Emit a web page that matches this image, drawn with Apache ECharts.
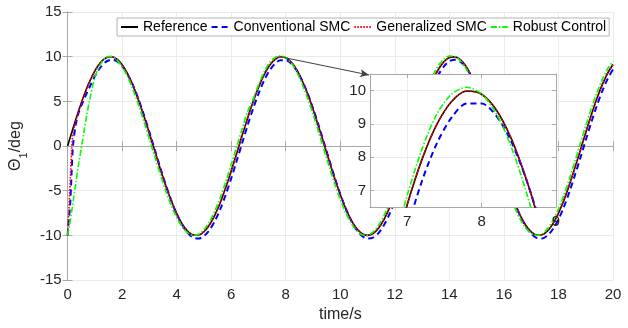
<!DOCTYPE html>
<html><head><meta charset="utf-8">
<script src="https://cdn.jsdelivr.net/npm/echarts@6/dist/echarts.min.js"></script>
<style>html,body{margin:0;padding:0;background:#fff}#c{width:628px;height:328px}</style>
</head><body><div id="c"></div>
<script>
// ---- data ----
const seriesNames = ['Reference', 'Conventional SMC', 'Generalized SMC', 'Robust Control'];
const time = [0,0.05,0.1,0.15,0.2,0.3,0.4,0.5,0.6,0.7,0.8,1.0,
1.2,1.4,1.6,1.8,2,2.2,2.4,2.6,2.8,3,
3.2,3.4,3.6,3.8,4,4.2,4.4,4.6,4.8,5,
5.2,5.4,5.6,5.8,6,6.2,6.4,6.6,6.8,7,
7.2,7.4,7.6,7.8,8,8.2,8.4,8.6,8.8,9,
9.2,9.4,9.6,9.8,10,10.2,10.4,10.6,10.8,11,
11.2,11.4,11.6,11.8,12,12.2,12.4,12.6,12.8,13,
13.2,13.4,13.6,13.8,14,14.2,14.4,14.6,14.8,15,
15.2,15.4,15.6,15.8,16,16.2,16.4,16.6,16.8,17,
17.2,17.4,17.6,17.8,18,18.2,18.4,18.6,18.8,19,
19.2,19.4,19.6,19.8,20];
const reference = [0,0.50,1.00,1.49,1.99,2.96,3.89,4.79,5.65,6.44,7.17,8.41,
9.32,9.85,10.00,9.74,9.09,8.08,6.76,5.16,3.35,1.41,
-0.58,-2.56,-4.43,-6.12,-7.57,-8.72,-9.52,-9.94,-9.96,-9.59,
-8.83,-7.73,-6.31,-4.65,-2.79,-0.83,1.17,3.12,4.94,6.57,
7.94,8.99,9.68,9.99,9.89,9.41,8.55,7.34,5.85,4.12,
2.23,0.25,-1.74,-3.67,-5.44,-7.00,-8.28,-9.23,-9.81,-10.00,
-9.79,-9.19,-8.23,-6.94,-5.37,-3.58,-1.66,0.34,2.32,4.20,
5.92,7.40,8.59,9.44,9.91,9.98,9.66,8.95,7.88,6.50,
4.87,3.04,1.08,-0.92,-2.88,-4.72,-6.39,-7.79,-8.87,-9.61,
-9.97,-9.93,-9.49,-8.68,-7.51,-6.06,-4.34,-2.47,-0.50,1.50,
3.43,5.23,6.82,8.14,9.13];
const conventionalSMC = [-10,-8.2,-6.2,-2.8,0.1,2.4,3.7,4.5,5.2,5.9,6.55,7.8,
8.79,9.42,9.66,9.50,8.95,8.02,6.78,5.24,3.47,1.56,
-0.43,-2.43,-4.33,-6.07,-7.59,-8.82,-9.72,-10.23,-10.35,-10.08,
-9.41,-8.40,-7.05,-5.44,-3.62,-1.68,0.32,2.30,4.16,5.84,
7.29,8.42,9.20,9.61,9.61,9.23,8.46,7.33,5.91,4.23,
2.37,0.40,-1.60,-3.56,-5.37,-6.99,-8.35,-9.39,-10.06,-10.35,
-10.24,-9.74,-8.86,-7.65,-6.14,-4.40,-2.50,-0.51,1.48,3.40,
5.17,6.71,7.98,8.92,9.49,9.66,9.44,8.82,7.84,6.53,
4.96,3.17,1.23,-0.77,-2.75,-4.63,-6.36,-7.83,-8.99,-9.82,
-10.28,-10.34,-10.00,-9.28,-8.19,-6.81,-5.14,-3.30,-1.35,0.66,
2.61,4.45,6.10,7.50,8.58];
const generalizedSMC = [-10,-7.0,-3.6,-0.4,1.5,2.8,3.8,4.72,5.6,6.42,7.16,8.41,
9.32,9.85,10.00,9.74,9.09,8.08,6.76,5.16,3.35,1.41,
-0.58,-2.56,-4.43,-6.12,-7.57,-8.72,-9.52,-9.94,-9.96,-9.59,
-8.83,-7.73,-6.31,-4.65,-2.79,-0.83,1.17,3.12,4.94,6.57,
7.94,8.99,9.68,9.99,9.89,9.41,8.55,7.34,5.85,4.12,
2.23,0.25,-1.74,-3.67,-5.44,-7.00,-8.28,-9.23,-9.81,-10.00,
-9.79,-9.19,-8.23,-6.94,-5.37,-3.58,-1.66,0.34,2.32,4.20,
5.92,7.40,8.59,9.44,9.91,9.98,9.66,8.95,7.88,6.50,
4.87,3.04,1.08,-0.92,-2.88,-4.72,-6.39,-7.79,-8.87,-9.61,
-9.97,-9.93,-9.49,-8.68,-7.51,-6.06,-4.34,-2.47,-0.50,1.50,
3.43,5.23,6.82,8.14,9.13];
const robustControl = [-10,-9.2,-8.3,-7.3,-6.3,-4.2,-2.1,-0.3,1.6,3.4,5.0,7.7,
9.1,9.9,10.05,9.65,8.87,7.74,6.31,4.62,2.75,0.76,
-1.23,-3.20,-5.02,-6.65,-8.00,-9.03,-9.71,-9.99,-9.87,-9.36,
-8.47,-7.25,-5.73,-3.99,-2.07,-0.08,1.92,3.85,5.2,6.85,
8.25,9.3,9.9,10.1,9.9,9.3,8.3,6.95,5.34,3.54,
1.60,-0.40,-2.38,-4.28,-5.99,-7.47,-8.64,-9.47,-9.92,-9.98,
-9.62,-8.88,-7.80,-6.40,-4.74,-2.88,-0.92,1.09,3.06,4.90,
6.55,7.94,9.02,9.74,10.08,10.01,9.55,8.71,7.52,6.04,
4.32,2.43,0.43,-1.57,-3.51,-5.30,-6.90,-8.20,-9.17,-9.77,
-10.00,-9.82,-9.24,-8.30,-7.02,-5.47,-3.67,-1.75,0.25,2.25,
4.15,5.89,7.40,8.62,9.49];
const insetXTicks = [7, 8, 9];
const insetYTicks = [7, 8, 9, 10];

// ---- chart ----
const FONT = '"Liberation Sans", Arial, Helvetica, sans-serif';
const TXT = '#262626';
const AX = '#a8a8a8';
const GRIDC = '#ebebeb';
const seriesValues = [reference, conventionalSMC, generalizedSMC, robustControl];
const lineStyles = [
  {color: '#000000', width: 1.6, type: 'solid'},
  {color: '#0000ff', width: 2, type: [6, 4]},
  {color: '#ff0000', width: 1.6, type: [1.5, 1.5]},
  {color: '#00ff00', width: 1.6, type: [6, 2, 1.5, 2]}
];
function pairs(arr) { return time.map((t, i) => [t, arr[i]]); }

const chart = echarts.init(document.getElementById('c'), null, {renderer: 'canvas'});

function baseAxis(extra) {
  return Object.assign({
    type: 'value',
    axisLine: {show: true, lineStyle: {color: AX, width: 1}},
    axisTick: {show: true, inside: true, length: 5, lineStyle: {color: AX}},
    axisLabel: {show: true, color: TXT, fontSize: 15, fontFamily: FONT},
    splitLine: {show: false},
  }, extra);
}

const xAxes = [
  baseAxis({gridIndex: 0, position: 'bottom', min: 0, max: 20, interval: 2,
    axisLabel: {color: TXT, fontSize: 15, fontFamily: FONT, margin: 7},
    splitLine: {show: true, lineStyle: {color: GRIDC, width: 1}},
    name: 'time/s', nameLocation: 'middle', nameGap: 25,
    nameTextStyle: {color: TXT, fontSize: 16, fontFamily: FONT}}),
  baseAxis({gridIndex: 0, position: 'top', min: 0, max: 20, interval: 2, axisLabel: {show: false}}),
  baseAxis({gridIndex: 1, position: 'bottom', min: 6.5, max: 9, z: 11,
    axisTick: {show: true, inside: true, length: 4, lineStyle: {color: AX}, customValues: insetXTicks},
    axisLabel: {color: TXT, fontSize: 15, fontFamily: FONT, margin: 7, customValues: insetXTicks},
    splitLine: {show: true, lineStyle: {color: GRIDC, width: 1}}}),
  baseAxis({gridIndex: 1, position: 'top', min: 6.5, max: 9, z: 11,
    axisTick: {show: true, inside: true, length: 4, lineStyle: {color: AX}, customValues: insetXTicks},
    axisLabel: {show: false}})
];
const yAxes = [
  baseAxis({gridIndex: 0, position: 'left', min: -15, max: 15, interval: 5,
    axisLabel: {color: TXT, fontSize: 15, fontFamily: FONT, margin: 6},
    splitLine: {show: true, lineStyle: {color: GRIDC, width: 1}},
    name: '{t|Θ}{s|1}{t|/deg}', nameLocation: 'middle', nameGap: 25,
    nameTextStyle: {color: TXT, fontSize: 16, fontFamily: FONT, rich: {
      t: {color: TXT, fontSize: 16, fontFamily: FONT, lineHeight: 26},
      s: {color: TXT, fontSize: 11, fontFamily: FONT, lineHeight: 12, verticalAlign: 'bottom'}
    }}}),
  baseAxis({gridIndex: 0, position: 'right', min: -15, max: 15, interval: 5, axisLabel: {show: false}}),
  baseAxis({gridIndex: 1, position: 'left', min: 6.5, max: 10.5, z: 11,
    axisTick: {show: true, inside: true, length: 4, lineStyle: {color: AX}, customValues: insetYTicks},
    axisLabel: {color: TXT, fontSize: 15, fontFamily: FONT, margin: 4, customValues: insetYTicks},
    splitLine: {show: true, lineStyle: {color: GRIDC, width: 1}}}),
  baseAxis({gridIndex: 1, position: 'right', min: 6.5, max: 10.5, z: 11,
    axisTick: {show: true, inside: true, length: 4, lineStyle: {color: AX}, customValues: insetYTicks},
    axisLabel: {show: false}})
];

const series = [];
seriesValues.forEach((vals, i) => {
  series.push({
    name: seriesNames[i], type: 'line', xAxisIndex: 0, yAxisIndex: 0,
    data: pairs(vals), showSymbol: false, symbol: 'none', smooth: 0.3,
    lineStyle: lineStyles[i], itemStyle: {color: lineStyles[i].color}, z: 2
  });
});
seriesValues.forEach((vals, i) => {
  series.push({
    name: seriesNames[i], type: 'line', xAxisIndex: 2, yAxisIndex: 2,
    data: pairs(vals), showSymbol: false, symbol: 'none', smooth: 0.3,
    lineStyle: lineStyles[i], itemStyle: {color: lineStyles[i].color}, z: 12
  });
});

chart.setOption({
  animation: false,
  backgroundColor: '#ffffff',
  textStyle: {fontFamily: FONT},
  grid: [
    {left: 65, right: 15, top: 12, bottom: 46, containLabel: false},
    {left: 370, top: 74, width: 186, height: 133, show: true, backgroundColor: '#ffffff',
      borderWidth: 0, z: 10, containLabel: false}
  ],
  legend: {
    data: seriesNames, left: 117, top: 18, orient: 'horizontal',
    itemWidth: 17, itemHeight: 14, itemGap: 3, padding: [2, 3],
    backgroundColor: '#ffffff', borderColor: '#b4b4b4', borderWidth: 1,
    itemStyle: {opacity: 0, color: 'rgba(0,0,0,0)', borderWidth: 0},
    textStyle: {color: '#000000', fontSize: 14, fontFamily: FONT},
    z: 20
  },
  xAxis: xAxes,
  yAxis: yAxes,
  series: series
});

// arrow from the reference peak (main axes) to the inset's top-left corner
let pk = 0, pkVal = -Infinity;
time.forEach((t, i) => { if (t > 6 && t < 9 && reference[i] > pkVal) { pkVal = reference[i]; pk = t; } });
const corner = chart.convertToPixel({gridIndex: 1}, [6.5, 10.5]);
const cornerData = chart.convertFromPixel({gridIndex: 0}, [corner[0] - 1, corner[1] + 1]);
chart.setOption({
  series: [{
    name: seriesNames[0],
    markLine: {
      silent: true, animation: false, symbol: ['none', 'arrow'], symbolSize: [6, 9],
      label: {show: false},
      lineStyle: {color: '#404040', width: 1, type: 'solid'},
      data: [[{coord: [pk, pkVal]}, {coord: cornerData}]]
    }
  }]
});
</script>
</body></html>
